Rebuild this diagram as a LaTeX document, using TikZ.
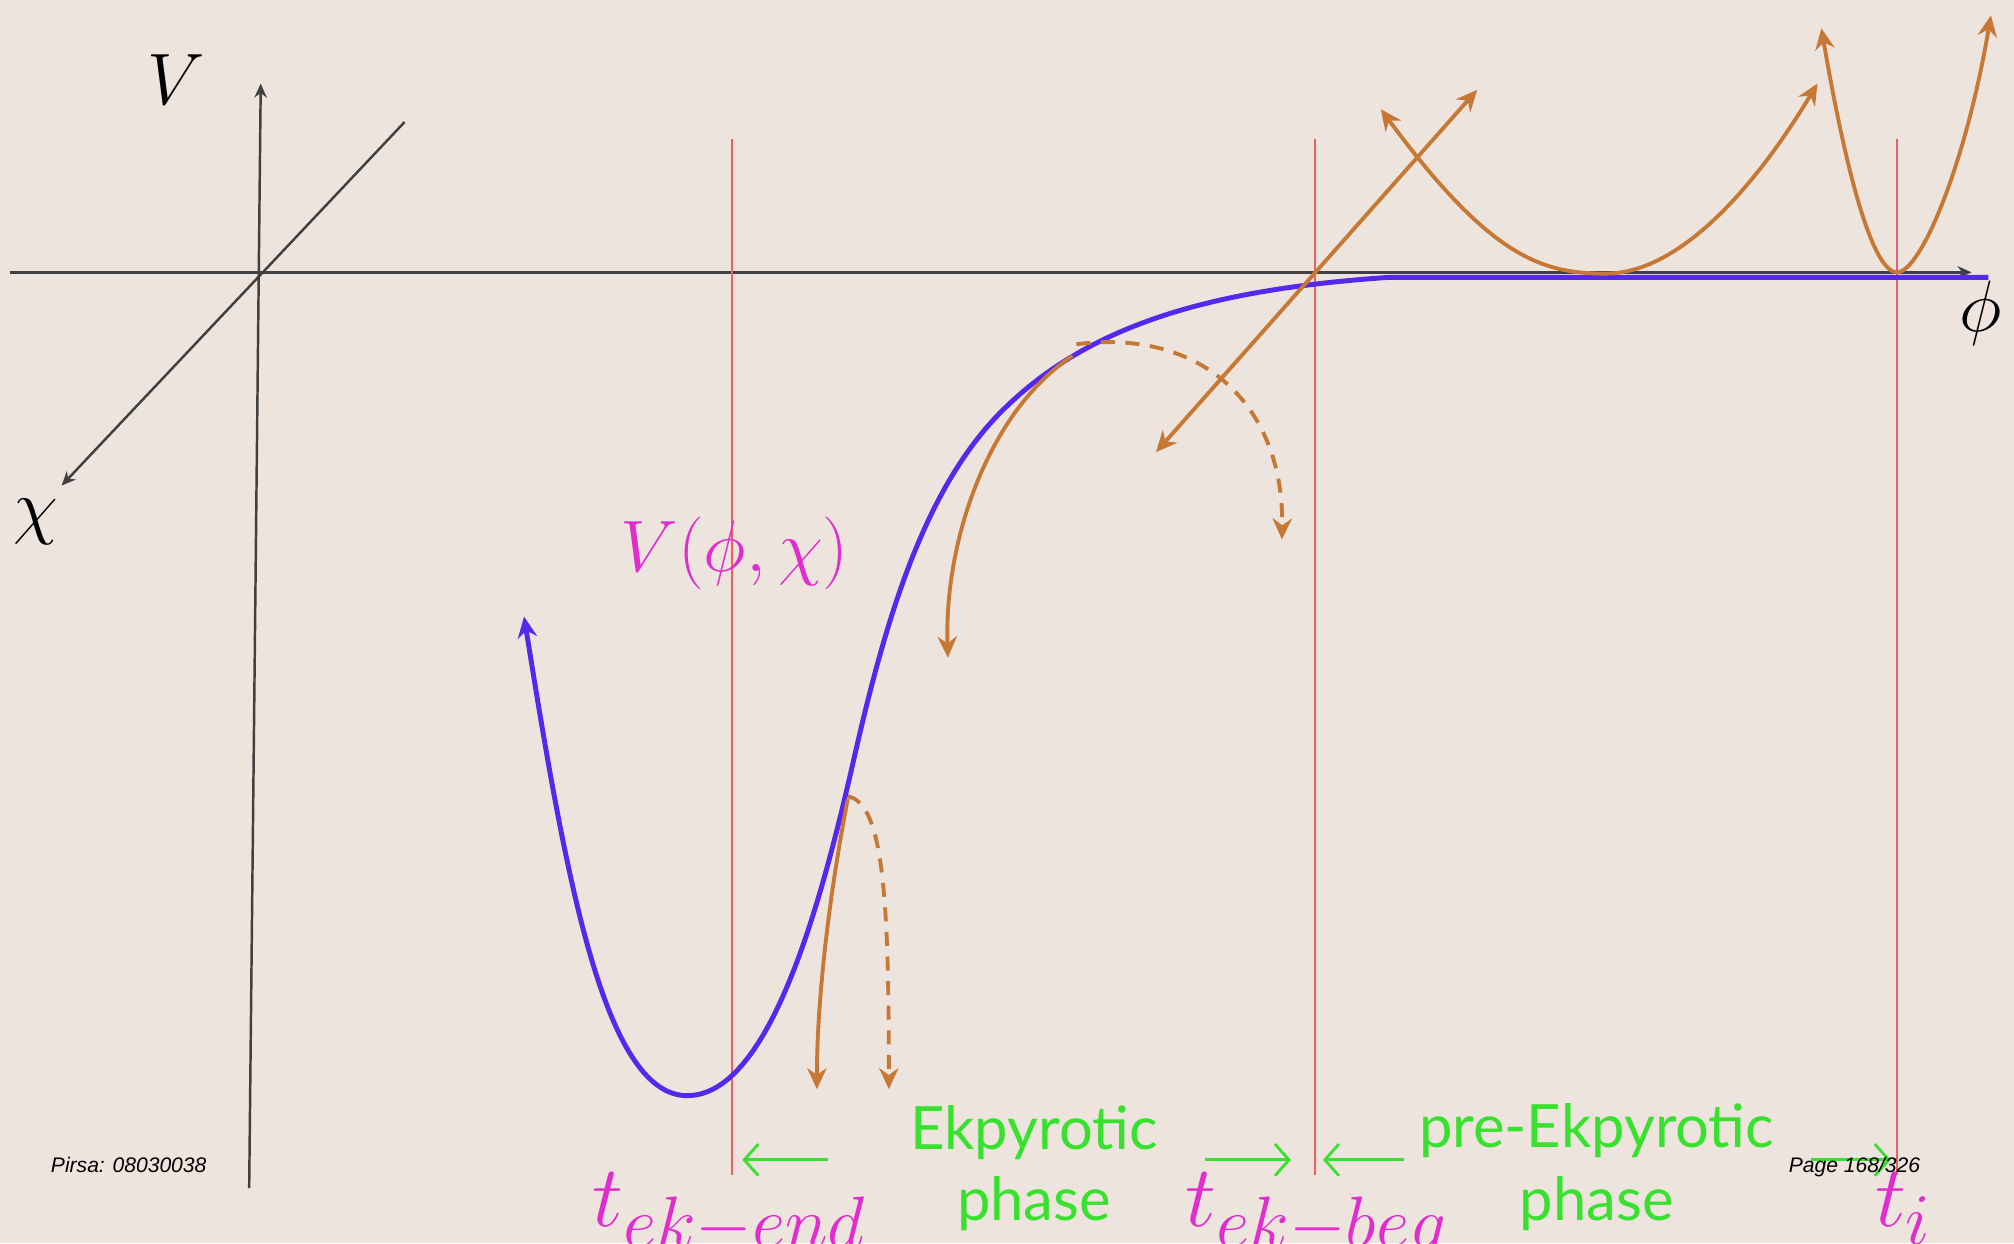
\documentclass[tikz,border=0pt]{standalone}
\usepackage{amsmath}
\usepackage{fontspec}
\newfontfamily\phasefont{Lato}
\newfontfamily\pirsafont{Liberation Sans}
\usetikzlibrary{arrows.meta}
\definecolor{slidebg}{RGB}{237,228,221}
\definecolor{potblue}{RGB}{85,40,235}
\definecolor{orbit}{RGB}{198,120,52}
\definecolor{tline}{RGB}{240,95,95}
\definecolor{phgreen}{RGB}{55,225,45}
\definecolor{tmag}{RGB}{225,45,205}

\begin{document}
\begin{tikzpicture}[x=0.012844cm, y=-0.012844cm,
  axis/.style={line width=0.7pt, black!75},
  pot/.style={line width=1.4pt, potblue},
  orbitpath/.style={line width=1.1pt, orbit},
  dashpath/.style={line width=1.1pt, orbit, dash pattern=on 4pt off 3pt},
  timeline/.style={line width=0.5pt, tline},
  phase/.style={phgreen, font=\fontsize{17}{20}\selectfont\phasefont},
  tlabel/.style={tmag, font=\fontsize{28}{30}\selectfont, anchor=base},
  phasearrow/.style={line width=0.8pt, phgreen, -{Straight Barb[length=4pt,width=9pt]}},
  >={Stealth[length=6pt,width=5.5pt]}]
\fill[slidebg] (0,0) rectangle (1568,968);
\useasboundingbox (0,0) rectangle (1568,968);
\coordinate (O) at (203,212);
\coordinate (Vtop) at (203,65);
\coordinate (Vbot) at (194,925);
\coordinate (chiend) at (48,378);
\coordinate (chitop) at (315,95);
\coordinate (phiend) at (1535,212);
\draw[axis, -{Stealth[length=4pt,width=3.5pt]}] (Vbot) -- (Vtop);
\draw[axis, -{Stealth[length=4pt,width=3.5pt]}] (chitop) -- (chiend);
\draw[axis, -{Stealth[length=4pt,width=3.5pt]}] (8,212) -- (phiend);
\node[font=\fontsize{20}{22}\selectfont, anchor=base] (Vlab) at (137,81) {$V$};
\node[font=\fontsize{20}{22}\selectfont, anchor=base] (chilab) at (28,413) {$\chi$};
\node[font=\fontsize{20}{22}\selectfont, anchor=base] (philab) at (1542,258) {$\phi$};
\draw[timeline] (570,108) coordinate (endtop) -- (570,915) coordinate (endbot);
\draw[timeline] (1024,108) coordinate (begtop) -- (1024,915) coordinate (begbot);
\draw[timeline] (1477,108) coordinate (itop) -- (1477,915) coordinate (ibot);
\draw[pot, <-] (408,480) .. controls (440,680) and (470,853) .. (535,853)
  .. controls (600,853) and (640,700) .. (665,590)
  .. controls (690,480) and (720,380) .. (780,320)
  .. controls (850,250) and (950,225) .. (1080,216) -- (1548,216);
\node[tmag, font=\fontsize{21}{24}\selectfont, anchor=base] (Vpot) at (572,445) {$V(\phi,\chi)$};
\draw[orbitpath, ->] (835,277) .. controls (770,320) and (735,420) .. (738,512);
\draw[dashpath, ->] (838,268) .. controls (940,255) and (1000,320) .. (998,420);
\draw[orbitpath, <->] (900,352) -- (1150,70);
\draw[orbitpath, <->] (1075,85) .. controls (1160,200) and (1200,213) .. (1250,213)
  .. controls (1310,213) and (1370,140) .. (1415,65);
\draw[orbitpath, <->] (1418,22) .. controls (1440,150) and (1460,212) .. (1477,212)
  .. controls (1495,212) and (1530,130) .. (1550,12);
\draw[orbitpath, ->] (660,622) .. controls (645,700) and (636,780) .. (636,848);
\draw[dashpath, ->] (660,620) .. controls (688,625) and (692,700) .. (692,848);
\node[phase, anchor=base] (ekA) at (805,895) {Ekpyrotic};
\node[phase, anchor=base] (ekB) at (805,950) {phase};
\node[phase, anchor=base] (preA) at (1243,893) {pre-Ekpyrotic};
\node[phase, anchor=base] (preB) at (1243,950) {phase};
\draw[phasearrow] (645,903) -- (578,903);
\draw[phasearrow] (938,903) -- (1005,903);
\draw[phasearrow] (1093,903) -- (1030,903);
\draw[phasearrow] (1410,903) -- (1472,903);
\node[tlabel] (tend) at (568,955) {$t_{ek-end}$};
\node[tlabel] (tbeg) at (1025,955) {$t_{ek-beg}$};
\node[tlabel] (ti) at (1482,955) {$t_i$};
\node[font=\fontsize{6}{7}\selectfont\pirsafont\itshape, anchor=base west] (pirsa) at (30,913) {Pirsa: 08030038};
\node[font=\fontsize{6}{7}\selectfont\pirsafont\itshape, anchor=base west] (page) at (1383,913) {Page 168/326};
\end{tikzpicture}
\end{document}
